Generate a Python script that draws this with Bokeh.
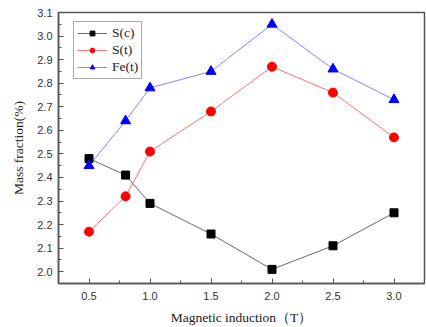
from bokeh.plotting import figure
from bokeh.models import SingleIntervalTicker, Range1d, Legend, LegendItem, NumeralTickFormatter
from bokeh.embed import file_html
from bokeh.resources import INLINE

induction = [0.5, 0.8, 1.0, 1.5, 2.0, 2.5, 3.0]
s_c = [2.48, 2.41, 2.29, 2.16, 2.01, 2.11, 2.25]
s_t = [2.17, 2.32, 2.51, 2.68, 2.87, 2.76, 2.57]
fe_t = [2.45, 2.64, 2.78, 2.85, 3.05, 2.86, 2.73]

p = figure(width=426, height=327, output_backend="svg", toolbar_location=None,
           x_range=Range1d(0.25, 3.25), y_range=Range1d(1.95, 3.1),
           min_border_left=58, min_border_right=2, min_border_top=12, min_border_bottom=43)
p.grid.visible = False
p.outline_line_color = "#555555"
p.outline_line_width = 1.5

l1 = p.line(induction, s_c, line_color="#444444", line_width=1, line_alpha=0.8)
m1 = p.scatter(induction, s_c, marker="square", size=8, color="black")
l2 = p.line(induction, s_t, line_color="#ff3333", line_width=1, line_alpha=0.7)
m2 = p.scatter(induction, s_t, marker="circle", size=9, color="#ff0000")
l3 = p.line(induction, fe_t, line_color="#3333ff", line_width=1, line_alpha=0.6)
m3 = p.scatter(induction, fe_t, marker="triangle", size=10, color="#0000ff")

p.xaxis.ticker = SingleIntervalTicker(interval=0.5, num_minor_ticks=2)
p.yaxis.ticker = SingleIntervalTicker(interval=0.1, num_minor_ticks=2)
p.xaxis.formatter = NumeralTickFormatter(format="0.0")
p.yaxis.formatter = NumeralTickFormatter(format="0.0")
for ax in (p.xaxis[0], p.yaxis[0]):
    ax.major_tick_in = 5
    ax.major_tick_out = 0
    ax.minor_tick_in = 3
    ax.minor_tick_out = 0
    ax.axis_line_color = "#555555"
    ax.axis_line_width = 1.5
    ax.major_tick_line_color = "#555555"
    ax.minor_tick_line_color = "#555555"
    ax.major_label_text_font = "Liberation Sans"
    ax.major_label_text_font_size = "11px"
    ax.major_label_text_color = "#333333"
    ax.axis_label_text_font = "Liberation Serif"
    ax.axis_label_text_font_size = "13.5px"
    ax.axis_label_text_font_style = "normal"
    ax.axis_label_text_color = "#222222"

p.xaxis.axis_label = "Magnetic induction（T）"
p.yaxis.axis_label = "Mass fraction(%)"
p.xaxis.major_label_standoff = 8
p.xaxis.axis_label_standoff = 7
p.yaxis.major_label_standoff = 6
p.yaxis.axis_label_standoff = 8

legend = Legend(items=[
    LegendItem(label="S(c)", renderers=[l1, m1]),
    LegendItem(label="S(t)", renderers=[l2, m2]),
    LegendItem(label="Fe(t)", renderers=[l3, m3]),
], location=(15, 204))
legend.label_text_font = "Liberation Serif"
legend.label_text_font_size = "13.5px"
legend.label_text_color = "#222222"
legend.glyph_width = 30
legend.glyph_height = 12
legend.label_height = 12
legend.spacing = 1
legend.padding = 3
legend.margin = 0
legend.label_standoff = 5
legend.border_line_color = "#555555"
legend.border_line_width = 1
legend.background_fill_alpha = 1
p.add_layout(legend, "center")

open("out.html", "w").write(file_html(p, INLINE))
